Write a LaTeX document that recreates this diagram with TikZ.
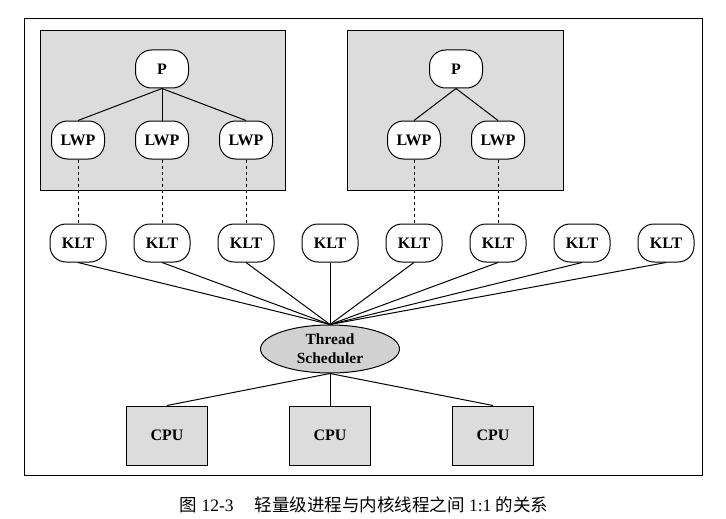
\documentclass[tikz,border=0pt]{standalone}
\usepackage{fontspec}
\setmainfont{Liberation Serif}
\newfontfamily\cjk{Noto Sans CJK SC}
\usetikzlibrary{positioning,calc,shapes.geometric}
\definecolor{boxgray}{HTML}{DCDCDC}

\begin{document}
\begin{tikzpicture}[x=1pt, y=-1pt,
    thread/.style = {draw, line width=1pt, rounded corners=16pt, inner sep=0pt,
                     minimum width=53pt, minimum height=38pt,
                     font=\bfseries\fontsize{16}{18}\selectfont},
    klt/.style = {thread, minimum width=56pt},
    cpu/.style = {draw, line width=1pt, fill=boxgray, minimum width=81pt,
                  minimum height=59pt, font=\bfseries\fontsize{16}{18}\selectfont},
    link/.style = {line width=1pt}]
  \useasboundingbox (0,0) rectangle (726,519);
  \draw[line width=1pt] (24,19) rectangle (702,475);

  % the two processes
  \draw[line width=1pt, fill=boxgray] (40,31) rectangle (285,190);
  \draw[line width=1pt, fill=boxgray] (347,31) rectangle (563,190);

  \foreach \i in {1,...,8}
    \node[klt] (k\i) at ({78+84*(\i-1)},243) {KLT};

  \node[thread, fill=white, above=64pt of k1] (l1) {LWP};
  \node[thread, fill=white, above=64pt of k2] (l2) {LWP};
  \node[thread, fill=white, above=64pt of k3] (l3) {LWP};
  \node[thread, fill=white, above=64pt of k5] (l4) {LWP};
  \node[thread, fill=white, above=64pt of k6] (l5) {LWP};

  \node[thread, fill=white, above=32pt of l2] (p) {P};
  \coordinate (m) at ($(l4.north)!0.5!(l5.north)$);
  \node[thread, fill=white, above=32pt of m] (q) {P};

  \node[ellipse, draw, line width=1pt, fill=boxgray!95!black, inner sep=0pt,
        minimum width=139pt, minimum height=48pt, align=center,
        font=\bfseries\fontsize{15.5}{19}\selectfont] (s) at (330,349) {Thread\\Scheduler};

  \node[cpu, below=32pt of s] (c2) {CPU};
  \node[cpu, left=81pt of c2] (c1) {CPU};
  \node[cpu, right=81pt of c2] (c3) {CPU};

  \foreach \i in {1,2,3}
    \draw[link] (p.south) -- (l\i.north);
  \foreach \i in {4,5}
    \draw[link] (q.south) -- (l\i.north);

  \draw[link, dashed] (l1.south) -- (k1.north);
  \draw[link, dashed] (l2.south) -- (k2.north);
  \draw[link, dashed] (l3.south) -- (k3.north);
  \draw[link, dashed] (l4.south) -- (k5.north);
  \draw[link, dashed] (l5.south) -- (k6.north);

  \foreach \i in {1,...,8}
    \draw[link] (k\i.south) -- (s.north);
  \foreach \i in {1,2,3}
    \draw[link] (s.south) -- (c\i.north);

  \node[font=\fontsize{17.5}{20}\selectfont] (cap) at (364,505)
    {{\cjk 图} 12-3\hspace{1.2em}{\cjk 轻量级进程与内核线程之间} 1:1 {\cjk 的关系}};
\end{tikzpicture}
\end{document}
